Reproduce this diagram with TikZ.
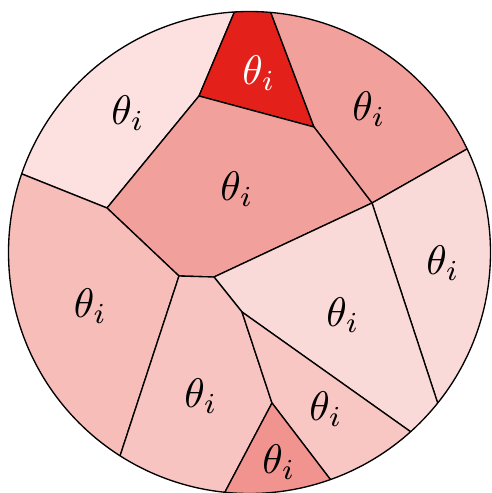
\documentclass[tikz,border=0pt]{standalone}
\usetikzlibrary{calc}
\definecolor{cTL}{HTML}{FDE1E1}
\definecolor{cDark}{HTML}{E3211A}
\definecolor{cMid}{HTML}{F2A09B}
\definecolor{cLight}{HTML}{FADAD8}
\definecolor{cLeft}{HTML}{F6BDB9}
\definecolor{cLow}{HTML}{F8C4C1}
\definecolor{cSmall}{HTML}{F8C6C3}
\definecolor{cBot}{HTML}{F1948F}
\begin{document}
\begin{tikzpicture}[x=0.3pt,y=-0.3pt,
  cell/.style={draw=black,line width=0.4pt,line join=round},
  lab/.style={inner sep=0pt,scale=1.24}]
\useasboundingbox (0,0) rectangle (492,493);
\coordinate (O) at (249.5,252.5);
% interior vertices
\coordinate (T1) at (199,96);
\coordinate (T2) at (314,127);
\coordinate (V1) at (107,208);
\coordinate (E) at (372,203);
\coordinate (A) at (179,276);
\coordinate (B) at (214,277);
\coordinate (C) at (242,312);
\coordinate (D) at (272,403);
% points on the circle
\coordinate (P1) at (234,13);
\coordinate (P2) at (271,13);
\coordinate (Q1) at (22,174);
\coordinate (Q2) at (467,149);
\coordinate (Q3) at (438,404);
\coordinate (Q4) at (411,432);
\coordinate (Q5) at (330,479);
\coordinate (Q6) at (225,492);
\coordinate (Q7) at (120,456);
% extensions beyond the circle
\coordinate (P1e) at ($(P1)!-12pt!(T1)$);
\coordinate (P2e) at ($(P2)!-12pt!(T2)$);
\coordinate (Q1e) at ($(Q1)!-12pt!(V1)$);
\coordinate (Q2e) at ($(Q2)!-12pt!(E)$);
\coordinate (Q3e) at ($(Q3)!-12pt!(E)$);
\coordinate (Q4e) at ($(Q4)!-12pt!(C)$);
\coordinate (Q5e) at ($(Q5)!-12pt!(D)$);
\coordinate (Q6e) at ($(Q6)!-12pt!(D)$);
\coordinate (Q7e) at ($(Q7)!-12pt!(A)$);
\begin{scope}
\clip (O) circle[radius=72.3pt];
\fill[white] (O) circle[radius=72.3pt];
\path[cell,fill=cTL] (T1) -- (V1) -- (Q1e) -- (-300,-300) -- (P1e) -- cycle;
\path[cell,fill=cDark] (T1) -- (P1e) -- (P2e) -- (T2) -- cycle;
\path[cell,fill=cMid] (T2) -- (P2e) -- (800,-300) -- (Q2e) -- (E) -- cycle;
\path[cell,fill=cMid] (T1) -- (T2) -- (E) -- (B) -- (A) -- (V1) -- cycle;
\path[cell,fill=cLight] (E) -- (Q2e) -- (800,300) -- (Q3e) -- cycle;
\path[cell,fill=cLight] (E) -- (Q3e) -- (Q4e) -- (C) -- (B) -- cycle;
\path[cell,fill=cLeft] (V1) -- (A) -- (Q7e) -- (-300,800) -- (-300,159) -- (Q1e) -- cycle;
\path[cell,fill=cLow] (A) -- (B) -- (C) -- (D) -- (Q6e) -- (150,700) -- (Q7e) -- cycle;
\path[cell,fill=cSmall] (C) -- (Q4e) -- (450,560) -- (Q5e) -- (D) -- cycle;
\path[cell,fill=cBot] (D) -- (Q5e) -- (300,700) -- (Q6e) -- cycle;
\end{scope}
\draw[line width=0.4pt] (O) circle[radius=72.3pt];
% labels
\node[lab] (l1) at (128,113) {$\theta_i$};
\node[lab,text=white] (l2) at (259,73) {$\theta_i$};
\node[lab] (l3) at (369,109) {$\theta_i$};
\node[lab] (l4) at (237,189) {$\theta_i$};
\node[lab] (l5) at (443,263) {$\theta_i$};
\node[lab] (l6) at (343,315) {$\theta_i$};
\node[lab] (l7) at (90.5,306.5) {$\theta_i$};
\node[lab] (l8) at (201,396) {$\theta_i$};
\node[lab] (l9) at (326,409) {$\theta_i$};
\node[lab] (l10) at (279,462) {$\theta_i$};
\end{tikzpicture}
\end{document}
